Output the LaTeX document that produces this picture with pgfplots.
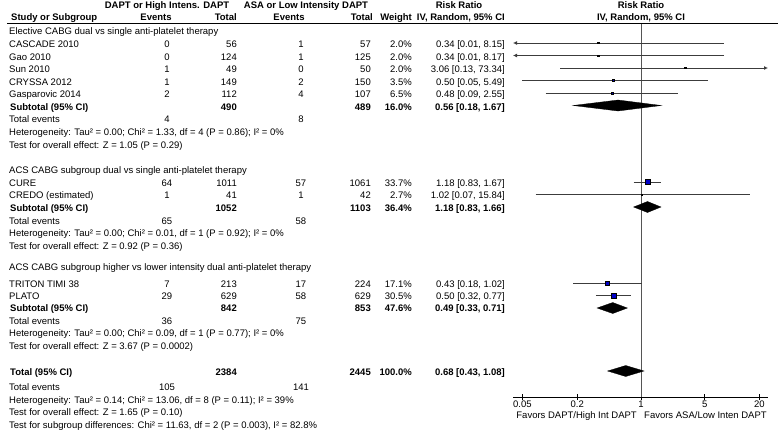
\documentclass[border=0pt]{standalone}
\usepackage{pgfplots}
\pgfplotsset{compat=1.18}
\usetikzlibrary{arrows.meta}
\usepackage{fontspec}
\setmainfont{Liberation Sans}
\definecolor{sqblue}{RGB}{0,0,200}
\definecolor{whisk}{RGB}{60,60,60}
\definecolor{vline}{RGB}{85,85,85}
\newcommand\fs{\fontsize{9.5bp}{11bp}\selectfont}
\newcommand\tL[3]{\node[anchor=base west] at (#1,{#2+3.4}) {#3};}
\newcommand\tR[3]{\node[anchor=base east] at (#1,{#2+3.4}) {#3};}
\newcommand\tC[3]{\node[anchor=base] at (#1,{#2+3.4}) {#3};}
\newcommand\study[8]{\tL{9}{#1}{#2}\tC{167}{#1}{#3}\tR{237}{#1}{#4}\tC{301}{#1}{#5}\tR{371}{#1}{#6}\tR{412}{#1}{#7}\tR{505}{#1}{#8}}
\newcommand\subt[6]{\tL{10}{#1}{\bfseries #2}\tR{237}{#1}{\bfseries #3}\tR{371}{#1}{\bfseries #4}\tR{412}{#1}{\bfseries #5}\tR{505}{#1}{\bfseries #6}}
\newcommand\evt[3]{\tL{9}{#1}{Total events}\tC{167}{#1}{#2}\tC{301}{#1}{#3}}
\begin{document}
\begin{tikzpicture}
\path[use as bounding box] (0,0) rectangle (778bp,-430bp);
\begin{axis}[
  scale only axis, width=255bp, height=374bp,
  at={(513bp,-397bp)}, anchor=south west,
  xmode=log, xmin=0.0394, xmax=24.8, ymin=-397, ymax=-23,
  axis x line=bottom, axis y line=none,
  x axis line style={-, black, line width=0.8bp},
  xtick={0.05,0.2,1,5,20}, xticklabels={0.05,0.2,1,5,20},
  minor xtick={}, tick align=center, major tick length=6bp,
  xtick style={black, line width=0.8bp},
  xticklabel style={font=\fs, inner sep=1bp},
  clip=false]
% line of no effect
\addplot[vline, line width=0.8bp] coordinates {(1,-23) (1,-397)};
% whiskers
\addplot[whisk, line width=0.8bp, -{Latex[length=4bp,width=4bp]}] coordinates {(8.15,-43) (0.0394,-43)};
\addplot[whisk, line width=0.8bp, -{Latex[length=4bp,width=4bp]}] coordinates {(8.17,-55.5) (0.0394,-55.5)};
\addplot[whisk, line width=0.8bp, -{Latex[length=4bp,width=4bp]}] coordinates {(0.13,-68) (24.8,-68)};
\addplot[whisk, line width=0.8bp] coordinates {(0.05,-80.5) (5.49,-80.5)};
\addplot[whisk, line width=0.8bp] coordinates {(0.09,-93) (2.55,-93)};
\addplot[whisk, line width=0.8bp] coordinates {(0.83,-182) (1.67,-182)};
\addplot[whisk, line width=0.8bp] coordinates {(0.07,-194.5) (15.84,-194.5)};
\addplot[whisk, line width=0.8bp] coordinates {(0.18,-283) (1.02,-283)};
\addplot[whisk, line width=0.8bp] coordinates {(0.32,-295.5) (0.77,-295.5)};
% squares
\addplot[only marks, mark=square*, mark size=0.65bp, mark options={draw=none, fill=sqblue}] coordinates {(0.34,-43) (0.34,-55.5) (3.06,-68)};
\addplot[only marks, mark=square*, mark size=0.85bp, mark options={draw=none, fill=sqblue}] coordinates {(0.50,-80.5)};
\addplot[only marks, mark=square*, mark size=1.16bp, mark options={draw=none, fill=sqblue}] coordinates {(0.48,-93)};
\addplot[only marks, mark=square*, mark size=2.65bp, mark options={draw=none, fill=sqblue}] coordinates {(1.18,-182)};
\addplot[only marks, mark=square*, mark size=0.75bp, mark options={draw=none, fill=sqblue}] coordinates {(1.02,-194.5)};
\addplot[only marks, mark=square*, mark size=1.89bp, mark options={draw=none, fill=sqblue}] coordinates {(0.43,-283)};
\addplot[only marks, mark=square*, mark size=2.52bp, mark options={draw=none, fill=sqblue}] coordinates {(0.50,-295.5)};
% diamonds
\addplot[fill=black, draw=black, line width=0.3bp] coordinates {(0.18,-105.5) (0.56,-100) (1.67,-105.5) (0.56,-111)} -- cycle;
\addplot[fill=black, draw=black, line width=0.3bp] coordinates {(0.83,-207) (1.18,-201.5) (1.66,-207) (1.18,-212.5)} -- cycle;
\addplot[fill=black, draw=black, line width=0.3bp] coordinates {(0.33,-308) (0.49,-302.5) (0.71,-308) (0.49,-313.5)} -- cycle;
\addplot[fill=black, draw=black, line width=0.3bp] coordinates {(0.43,-371) (0.68,-365.5) (1.08,-371) (0.68,-376.5)} -- cycle;
\end{axis}
\begin{scope}[x=1bp, y=-1bp, every node/.style={font=\fs, inner sep=0pt}]
\draw[black, line width=0.8bp] (7,23) -- (778,23);
\tC{167}{5}{\bfseries DAPT or High Intens. DAPT}
\tC{306}{5}{\bfseries ASA or Low Intensity DAPT}
\tC{459}{5}{\bfseries Risk Ratio}
\tC{641}{5}{\bfseries Risk Ratio}
\tL{11}{17}{\bfseries Study or Subgroup}
\tC{156}{17}{\bfseries Events}
\tR{237}{17}{\bfseries Total}
\tC{289}{17}{\bfseries Events}
\tR{373}{17}{\bfseries Total}
\tR{412}{17}{\bfseries Weight}
\tR{505}{17}{\bfseries IV, Random, 95\% CI}
\tC{641}{17}{\bfseries IV, Random, 95\% CI}
% group 1
\tL{9}{31}{Elective CABG dual vs single anti-platelet therapy}
\study{44}{CASCADE 2010}{0}{56}{1}{57}{2.0\%}{0.34 [0.01, 8.15]}
\study{57}{Gao 2010}{0}{124}{1}{125}{2.0\%}{0.34 [0.01, 8.17]}
\study{69.5}{Sun 2010}{1}{49}{0}{50}{2.0\%}{3.06 [0.13, 73.34]}
\study{82}{CRYSSA 2012}{1}{149}{2}{150}{3.5\%}{0.50 [0.05, 5.49]}
\study{94.5}{Gasparovic 2014}{2}{112}{4}{107}{6.5\%}{0.48 [0.09, 2.55]}
\subt{107}{Subtotal (95\% CI)}{490}{489}{16.0\%}{0.56 [0.18, 1.67]}
\evt{119.5}{4}{8}
\tL{9}{132}{Heterogeneity: Tau² = 0.00; Chi² = 1.33, df = 4 (P = 0.86); I² = 0\%}
\tL{9}{145}{Test for overall effect: Z = 1.05 (P = 0.29)}
% group 2
\tL{9}{170}{ACS CABG subgroup dual vs single anti-platelet therapy}
\study{183}{CURE}{64}{1011}{57}{1061}{33.7\%}{1.18 [0.83, 1.67]}
\study{195.5}{CREDO (estimated)}{1}{41}{1}{42}{2.7\%}{1.02 [0.07, 15.84]}
\subt{208}{Subtotal (95\% CI)}{1052}{1103}{36.4\%}{1.18 [0.83, 1.66]}
\evt{221}{65}{58}
\tL{9}{233.5}{Heterogeneity: Tau² = 0.00; Chi² = 0.01, df = 1 (P = 0.92); I² = 0\%}
\tL{9}{246}{Test for overall effect: Z = 0.92 (P = 0.36)}
% group 3
\tL{9}{267}{ACS CABG subgroup higher vs lower intensity dual anti-platelet therapy}
\study{284}{TRITON TIMI 38}{7}{213}{17}{224}{17.1\%}{0.43 [0.18, 1.02]}
\study{296.5}{PLATO}{29}{629}{58}{629}{30.5\%}{0.50 [0.32, 0.77]}
\subt{308.5}{Subtotal (95\% CI)}{842}{853}{47.6\%}{0.49 [0.33, 0.71]}
\evt{321.5}{36}{75}
\tL{9}{333.5}{Heterogeneity: Tau² = 0.00; Chi² = 0.09, df = 1 (P = 0.77); I² = 0\%}
\tL{9}{346}{Test for overall effect: Z = 3.67 (P = 0.0002)}
% total
\subt{372.5}{Total (95\% CI)}{2384}{2445}{100.0\%}{0.68 [0.43, 1.08]}
\evt{387.5}{105}{141}
\tL{9}{400}{Heterogeneity: Tau² = 0.14; Chi² = 13.06, df = 8 (P = 0.11); I² = 39\%}
\tL{9}{412.5}{Test for overall effect: Z = 1.65 (P = 0.10)}
\tL{9}{425}{Test for subgroup differences: Chi² = 11.63, df = 2 (P = 0.003), I² = 82.8\%}
\tR{637}{415}{Favors DAPT/High Int DAPT}
\tL{644}{415}{Favors ASA/Low Inten DAPT}
\end{scope}
\end{tikzpicture}
\end{document}
